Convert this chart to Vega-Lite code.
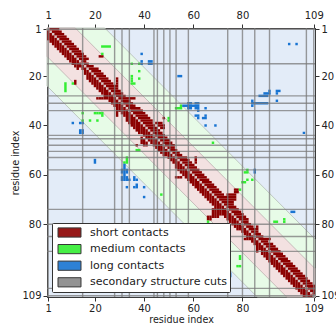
{
  "$schema": "https://vega.github.io/schema/vega-lite/v6.json",
  "width": 268,
  "height": 269,
  "autosize": "none",
  "padding": {"left": 47, "top": 28, "right": 21, "bottom": 28},
  "config": {
    "view": {"fill": "#e3ecf8", "stroke": "#3a3a3a", "strokeWidth": 1},
    "axis": {
      "labelFont": "DejaVu Sans", "labelFontSize": 10, "labelColor": "#222",
      "titleFont": "DejaVu Sans", "titleFontSize": 9.6, "titleFontWeight": "normal", "titleColor": "#222",
      "tickColor": "#333", "domainColor": "#3a3a3a", "tickSize": 4, "grid": false, "labelPadding": 2
    },
    "legend": {
      "labelFont": "DejaVu Sans", "labelFontSize": 11, "labelColor": "#222"
    }
  },
  "datasets": {
    "green_band": [
      {"x": 0.5, "lo": 0.5, "hi": 24},
      {"x": 24, "lo": 0.5, "hi": 47.5},
      {"x": 86, "lo": 62.5, "hi": 109.5},
      {"x": 109.5, "lo": 86, "hi": 109.5}
    ],
    "pink_band": [
      {"x": 0.5, "lo": 0.5, "hi": 12},
      {"x": 12, "lo": 0.5, "hi": 23.5},
      {"x": 98, "lo": 86.5, "hi": 109.5},
      {"x": 109.5, "lo": 98, "hi": 109.5}
    ],
    "diagonal": [{"a": 0.5, "b": 109.5}],
    "cuts": [
      {"pos": 1}, {"pos": 15}, {"pos": 28}, {"pos": 31}, {"pos": 34}, {"pos": 44},
      {"pos": 45.4}, {"pos": 48}, {"pos": 50.5}, {"pos": 53}, {"pos": 58}, {"pos": 74},
      {"pos": 80}, {"pos": 85}, {"pos": 91}, {"pos": 106}, {"pos": 109}
    ],
    "contacts": [
      {"row": 1, "from": 2, "to": 5, "kind": "short contacts"},
      {"row": 2, "from": 3, "to": 6, "kind": "short contacts"},
      {"row": 3, "from": 4, "to": 7, "kind": "short contacts"},
      {"row": 4, "from": 5, "to": 8, "kind": "short contacts"},
      {"row": 5, "from": 6, "to": 9, "kind": "short contacts"},
      {"row": 6, "from": 7, "to": 10, "kind": "short contacts"},
      {"row": 7, "from": 8, "to": 11, "kind": "short contacts"},
      {"row": 8, "from": 9, "to": 12, "kind": "short contacts"},
      {"row": 9, "from": 10, "to": 13, "kind": "short contacts"},
      {"row": 10, "from": 11, "to": 14, "kind": "short contacts"},
      {"row": 11, "from": 12, "to": 15, "kind": "short contacts"},
      {"row": 12, "from": 13, "to": 16, "kind": "short contacts"},
      {"row": 12, "from": 22, "to": 23, "kind": "short contacts"},
      {"row": 13, "from": 14, "to": 17, "kind": "short contacts"},
      {"row": 14, "from": 15, "to": 16, "kind": "short contacts"},
      {"row": 15, "from": 16, "to": 17, "kind": "short contacts"},
      {"row": 16, "from": 17, "to": 19, "kind": "short contacts"},
      {"row": 17, "from": 18, "to": 21, "kind": "short contacts"},
      {"row": 18, "from": 19, "to": 22, "kind": "short contacts"},
      {"row": 19, "from": 20, "to": 23, "kind": "short contacts"},
      {"row": 20, "from": 21, "to": 24, "kind": "short contacts"},
      {"row": 21, "from": 22, "to": 25, "kind": "short contacts"},
      {"row": 21, "from": 29, "to": 29, "kind": "short contacts"},
      {"row": 22, "from": 23, "to": 26, "kind": "short contacts"},
      {"row": 22, "from": 29, "to": 29, "kind": "short contacts"},
      {"row": 23, "from": 24, "to": 27, "kind": "short contacts"},
      {"row": 23, "from": 29, "to": 29, "kind": "short contacts"},
      {"row": 24, "from": 25, "to": 29, "kind": "short contacts"},
      {"row": 25, "from": 26, "to": 29, "kind": "short contacts"},
      {"row": 26, "from": 27, "to": 30, "kind": "short contacts"},
      {"row": 27, "from": 28, "to": 31, "kind": "short contacts"},
      {"row": 28, "from": 29, "to": 32, "kind": "short contacts"},
      {"row": 29, "from": 30, "to": 36, "kind": "short contacts"},
      {"row": 30, "from": 31, "to": 34, "kind": "short contacts"},
      {"row": 31, "from": 32, "to": 35, "kind": "short contacts"},
      {"row": 32, "from": 33, "to": 36, "kind": "short contacts"},
      {"row": 33, "from": 34, "to": 38, "kind": "short contacts"},
      {"row": 34, "from": 35, "to": 39, "kind": "short contacts"},
      {"row": 35, "from": 36, "to": 40, "kind": "short contacts"},
      {"row": 36, "from": 37, "to": 41, "kind": "short contacts"},
      {"row": 37, "from": 38, "to": 42, "kind": "short contacts"},
      {"row": 37, "from": 48, "to": 48, "kind": "short contacts"},
      {"row": 38, "from": 39, "to": 43, "kind": "short contacts"},
      {"row": 39, "from": 40, "to": 43, "kind": "short contacts"},
      {"row": 39, "from": 45, "to": 47, "kind": "short contacts"},
      {"row": 40, "from": 41, "to": 44, "kind": "short contacts"},
      {"row": 40, "from": 46, "to": 48, "kind": "short contacts"},
      {"row": 41, "from": 42, "to": 45, "kind": "short contacts"},
      {"row": 41, "from": 47, "to": 48, "kind": "short contacts"},
      {"row": 42, "from": 43, "to": 46, "kind": "short contacts"},
      {"row": 43, "from": 44, "to": 47, "kind": "short contacts"},
      {"row": 44, "from": 45, "to": 48, "kind": "short contacts"},
      {"row": 45, "from": 46, "to": 49, "kind": "short contacts"},
      {"row": 46, "from": 47, "to": 50, "kind": "short contacts"},
      {"row": 47, "from": 48, "to": 51, "kind": "short contacts"},
      {"row": 48, "from": 49, "to": 52, "kind": "short contacts"},
      {"row": 49, "from": 50, "to": 52, "kind": "short contacts"},
      {"row": 50, "from": 51, "to": 53, "kind": "short contacts"},
      {"row": 51, "from": 52, "to": 54, "kind": "short contacts"},
      {"row": 52, "from": 53, "to": 55, "kind": "short contacts"},
      {"row": 53, "from": 54, "to": 57, "kind": "short contacts"},
      {"row": 53, "from": 61, "to": 61, "kind": "short contacts"},
      {"row": 54, "from": 55, "to": 58, "kind": "short contacts"},
      {"row": 54, "from": 61, "to": 61, "kind": "short contacts"},
      {"row": 55, "from": 56, "to": 59, "kind": "short contacts"},
      {"row": 55, "from": 61, "to": 61, "kind": "short contacts"},
      {"row": 56, "from": 57, "to": 60, "kind": "short contacts"},
      {"row": 57, "from": 58, "to": 61, "kind": "short contacts"},
      {"row": 58, "from": 59, "to": 62, "kind": "short contacts"},
      {"row": 59, "from": 60, "to": 63, "kind": "short contacts"},
      {"row": 60, "from": 61, "to": 64, "kind": "short contacts"},
      {"row": 61, "from": 62, "to": 65, "kind": "short contacts"},
      {"row": 62, "from": 63, "to": 66, "kind": "short contacts"},
      {"row": 63, "from": 64, "to": 67, "kind": "short contacts"},
      {"row": 64, "from": 65, "to": 68, "kind": "short contacts"},
      {"row": 65, "from": 66, "to": 69, "kind": "short contacts"},
      {"row": 66, "from": 67, "to": 70, "kind": "short contacts"},
      {"row": 66, "from": 77, "to": 78, "kind": "short contacts"},
      {"row": 67, "from": 68, "to": 71, "kind": "short contacts"},
      {"row": 67, "from": 77, "to": 78, "kind": "short contacts"},
      {"row": 68, "from": 69, "to": 72, "kind": "short contacts"},
      {"row": 68, "from": 74, "to": 77, "kind": "short contacts"},
      {"row": 69, "from": 70, "to": 77, "kind": "short contacts"},
      {"row": 70, "from": 71, "to": 77, "kind": "short contacts"},
      {"row": 71, "from": 72, "to": 76, "kind": "short contacts"},
      {"row": 72, "from": 73, "to": 76, "kind": "short contacts"},
      {"row": 73, "from": 74, "to": 77, "kind": "short contacts"},
      {"row": 74, "from": 75, "to": 78, "kind": "short contacts"},
      {"row": 75, "from": 76, "to": 79, "kind": "short contacts"},
      {"row": 76, "from": 77, "to": 80, "kind": "short contacts"},
      {"row": 77, "from": 78, "to": 81, "kind": "short contacts"},
      {"row": 78, "from": 79, "to": 82, "kind": "short contacts"},
      {"row": 79, "from": 80, "to": 82, "kind": "short contacts"},
      {"row": 80, "from": 81, "to": 83, "kind": "short contacts"},
      {"row": 81, "from": 82, "to": 84, "kind": "short contacts"},
      {"row": 81, "from": 86, "to": 86, "kind": "short contacts"},
      {"row": 82, "from": 83, "to": 86, "kind": "short contacts"},
      {"row": 83, "from": 84, "to": 86, "kind": "short contacts"},
      {"row": 84, "from": 85, "to": 87, "kind": "short contacts"},
      {"row": 85, "from": 86, "to": 88, "kind": "short contacts"},
      {"row": 86, "from": 87, "to": 91, "kind": "short contacts"},
      {"row": 87, "from": 88, "to": 90, "kind": "short contacts"},
      {"row": 88, "from": 89, "to": 92, "kind": "short contacts"},
      {"row": 89, "from": 90, "to": 93, "kind": "short contacts"},
      {"row": 90, "from": 91, "to": 94, "kind": "short contacts"},
      {"row": 91, "from": 92, "to": 95, "kind": "short contacts"},
      {"row": 92, "from": 93, "to": 96, "kind": "short contacts"},
      {"row": 93, "from": 94, "to": 97, "kind": "short contacts"},
      {"row": 94, "from": 95, "to": 98, "kind": "short contacts"},
      {"row": 95, "from": 96, "to": 99, "kind": "short contacts"},
      {"row": 96, "from": 97, "to": 100, "kind": "short contacts"},
      {"row": 97, "from": 98, "to": 101, "kind": "short contacts"},
      {"row": 98, "from": 99, "to": 102, "kind": "short contacts"},
      {"row": 99, "from": 100, "to": 103, "kind": "short contacts"},
      {"row": 100, "from": 101, "to": 104, "kind": "short contacts"},
      {"row": 101, "from": 102, "to": 105, "kind": "short contacts"},
      {"row": 102, "from": 103, "to": 106, "kind": "short contacts"},
      {"row": 103, "from": 104, "to": 107, "kind": "short contacts"},
      {"row": 104, "from": 105, "to": 108, "kind": "short contacts"},
      {"row": 105, "from": 106, "to": 109, "kind": "short contacts"},
      {"row": 106, "from": 107, "to": 109, "kind": "short contacts"},
      {"row": 107, "from": 108, "to": 109, "kind": "short contacts"},
      {"row": 108, "from": 109, "to": 109, "kind": "short contacts"},

      {"row": 8, "from": 23, "to": 26, "kind": "medium contacts"},
      {"row": 11, "from": 23, "to": 23, "kind": "medium contacts"},
      {"row": 15, "from": 35, "to": 35, "kind": "medium contacts"},
      {"row": 15, "from": 38, "to": 38, "kind": "medium contacts"},
      {"row": 18, "from": 38, "to": 38, "kind": "medium contacts"},
      {"row": 20, "from": 35, "to": 35, "kind": "medium contacts"},
      {"row": 21, "from": 35, "to": 35, "kind": "medium contacts"},
      {"row": 21, "from": 38, "to": 38, "kind": "medium contacts"},
      {"row": 22, "from": 35, "to": 35, "kind": "medium contacts"},
      {"row": 23, "from": 35, "to": 36, "kind": "medium contacts"},
      {"row": 32, "from": 55, "to": 55, "kind": "medium contacts"},
      {"row": 33, "from": 53, "to": 55, "kind": "medium contacts"},
      {"row": 37, "from": 50, "to": 50, "kind": "medium contacts"},
      {"row": 38, "from": 50, "to": 50, "kind": "medium contacts"},
      {"row": 47, "from": 68, "to": 68, "kind": "medium contacts"},
      {"row": 58, "from": 82, "to": 82, "kind": "medium contacts"},
      {"row": 59, "from": 81, "to": 82, "kind": "medium contacts"},
      {"row": 62, "from": 82, "to": 82, "kind": "medium contacts"},
      {"row": 62, "from": 84, "to": 84, "kind": "medium contacts"},
      {"row": 63, "from": 80, "to": 81, "kind": "medium contacts"},
      {"row": 66, "from": 79, "to": 79, "kind": "medium contacts"},
      {"row": 78, "from": 97, "to": 97, "kind": "medium contacts"},
      {"row": 79, "from": 93, "to": 94, "kind": "medium contacts"},
      {"row": 79, "from": 97, "to": 97, "kind": "medium contacts"},

      {"row": 7, "from": 99, "to": 99, "kind": "long contacts"},
      {"row": 7, "from": 102, "to": 102, "kind": "long contacts"},
      {"row": 11, "from": 39, "to": 39, "kind": "long contacts"},
      {"row": 14, "from": 39, "to": 39, "kind": "long contacts"},
      {"row": 15, "from": 39, "to": 39, "kind": "long contacts"},
      {"row": 14, "from": 42, "to": 43, "kind": "long contacts"},
      {"row": 15, "from": 42, "to": 43, "kind": "long contacts"},
      {"row": 20, "from": 54, "to": 55, "kind": "long contacts"},
      {"row": 26, "from": 91, "to": 91, "kind": "long contacts"},
      {"row": 26, "from": 94, "to": 95, "kind": "long contacts"},
      {"row": 27, "from": 89, "to": 91, "kind": "long contacts"},
      {"row": 27, "from": 94, "to": 94, "kind": "long contacts"},
      {"row": 28, "from": 87, "to": 90, "kind": "long contacts"},
      {"row": 30, "from": 84, "to": 84, "kind": "long contacts"},
      {"row": 30, "from": 94, "to": 94, "kind": "long contacts"},
      {"row": 31, "from": 84, "to": 90, "kind": "long contacts"},
      {"row": 32, "from": 84, "to": 84, "kind": "long contacts"},
      {"row": 31, "from": 58, "to": 59, "kind": "long contacts"},
      {"row": 31, "from": 61, "to": 62, "kind": "long contacts"},
      {"row": 32, "from": 56, "to": 62, "kind": "long contacts"},
      {"row": 33, "from": 58, "to": 59, "kind": "long contacts"},
      {"row": 33, "from": 61, "to": 62, "kind": "long contacts"},
      {"row": 33, "from": 65, "to": 65, "kind": "long contacts"},
      {"row": 34, "from": 62, "to": 62, "kind": "long contacts"},
      {"row": 36, "from": 61, "to": 62, "kind": "long contacts"},
      {"row": 37, "from": 62, "to": 62, "kind": "long contacts"},
      {"row": 36, "from": 65, "to": 65, "kind": "long contacts"},
      {"row": 37, "from": 64, "to": 65, "kind": "long contacts"},
      {"row": 40, "from": 65, "to": 65, "kind": "long contacts"},
      {"row": 40, "from": 69, "to": 69, "kind": "long contacts"},
      {"row": 43, "from": 105, "to": 105, "kind": "long contacts"},
      {"row": 58, "from": 85, "to": 85, "kind": "long contacts"},
      {"row": 59, "from": 85, "to": 85, "kind": "long contacts"},
      {"row": 75, "from": 100, "to": 101, "kind": "long contacts"}
    ]
  },
  "resolve": {"axis": {"x": "independent", "y": "independent"}},
  "layer": [
    {
      "data": {"name": "green_band"},
      "mark": {"type": "area", "fill": "#e7fbe7", "stroke": "#b4bcb4", "strokeWidth": 0.8},
      "encoding": {
        "x": {"field": "x", "type": "quantitative", "scale": {"domain": [0.5, 109.5], "nice": false, "zero": false}, "axis": null},
        "y": {"field": "lo", "type": "quantitative", "scale": {"domain": [0.5, 109.5], "nice": false, "zero": false, "reverse": true}, "axis": null},
        "y2": {"field": "hi"}
      }
    },
    {
      "data": {"name": "pink_band"},
      "mark": {"type": "area", "fill": "#f3e1e1", "stroke": "#bcb0b0", "strokeWidth": 0.8},
      "encoding": {
        "x": {"field": "x", "type": "quantitative", "axis": null},
        "y": {"field": "lo", "type": "quantitative", "axis": null},
        "y2": {"field": "hi"}
      }
    },
    {
      "data": {"name": "diagonal"},
      "mark": {"type": "rule", "stroke": "#d6c6c6", "strokeWidth": 2.2},
      "encoding": {
        "x": {"field": "a", "type": "quantitative", "axis": null},
        "y": {"field": "a", "type": "quantitative", "axis": null},
        "x2": {"field": "b"},
        "y2": {"field": "b"}
      }
    },
    {
      "data": {"name": "contacts"},
      "mark": {"type": "rect", "xOffset": -1.23, "x2Offset": 1.23, "yOffset": -1.23, "y2Offset": 1.23},
      "encoding": {
        "x": {"field": "from", "type": "quantitative", "axis": {"orient": "bottom", "values": [1, 20, 40, 60, 80, 109], "title": "residue index", "titlePadding": 1}},
        "x2": {"field": "to"},
        "y": {"field": "row", "type": "quantitative", "axis": {"orient": "left", "values": [1, 20, 40, 60, 80, 109], "title": "residue index", "titlePadding": 1}},
        "y2": {"field": "row"},
        "color": {
          "field": "kind", "type": "nominal",
          "scale": {
            "domain": ["short contacts", "medium contacts", "long contacts", "secondary structure cuts"],
            "range": ["#8b0000", "#33ee33", "#1874d2", "#888888"]
          },
          "legend": {
            "title": null, "orient": "none", "legendX": 5, "legendY": 195,
            "fillColor": "white", "strokeColor": "#333", "padding": 3, "cornerRadius": 1,
            "symbolType": "M-2,-0.8H2V0.8H-2Z", "symbolSize": 132, "symbolOffset": 8,
            "symbolStrokeColor": "#222", "symbolStrokeWidth": 1, "symbolOpacity": 0.9,
            "labelOffset": 14, "rowPadding": 1.6
          }
        }
      }
    },
    {
      "data": {"name": "contacts"},
      "mark": {"type": "rect", "xOffset": -1.23, "x2Offset": 1.23, "yOffset": -1.23, "y2Offset": 1.23},
      "encoding": {
        "x": {"field": "row", "type": "quantitative", "axis": null},
        "x2": {"field": "row"},
        "y": {"field": "from", "type": "quantitative", "axis": null},
        "y2": {"field": "to"},
        "color": {"field": "kind", "type": "nominal"}
      }
    },
    {
      "data": {"name": "cuts"},
      "mark": {"type": "rule", "stroke": "#7a7a7a", "strokeWidth": 1.4, "opacity": 0.75},
      "encoding": {
        "x": {"field": "pos", "type": "quantitative", "axis": {"orient": "top", "values": [1, 20, 40, 60, 80, 109], "title": null, "labelPadding": 4}}
      }
    },
    {
      "data": {"name": "cuts"},
      "mark": {"type": "rule", "stroke": "#7a7a7a", "strokeWidth": 1.4, "opacity": 0.75},
      "encoding": {
        "y": {"field": "pos", "type": "quantitative", "axis": {"orient": "right", "values": [1, 20, 40, 60, 80, 109], "title": null}}
      }
    }
  ]
}
